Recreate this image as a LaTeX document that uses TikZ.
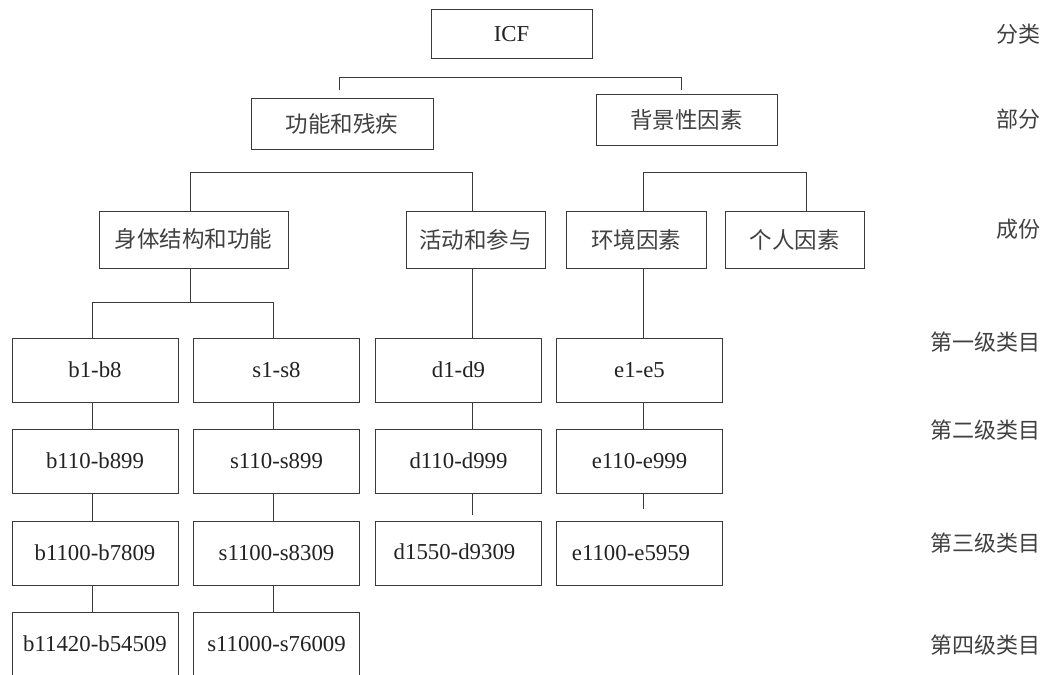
\documentclass[tikz,border=0pt]{standalone}
\usepackage{fontspec}
\setmainfont{Liberation Serif}
\newfontfamily\cjk{Noto Sans CJK SC}
\usetikzlibrary{calc}
\definecolor{ln}{HTML}{3A3A3A}
\definecolor{tx}{HTML}{222222}
\definecolor{ctx}{HTML}{404040}
\tikzset{
  box/.style={draw=ln, line width=1pt, rectangle, inner sep=0pt, text=tx,
    font=\fontsize{22.8}{26}\selectfont},
  cbox/.style={box, text=ctx, font=\cjk\fontsize{22.5}{26}\selectfont},
  lvl/.style={box, minimum width=166pt, minimum height=64pt},
  conn/.style={draw=ln, line width=0.9pt},
  side/.style={anchor=east, inner sep=0pt, text=ctx, font=\cjk\fontsize{22}{26}\selectfont}
}
\begin{document}
\begin{tikzpicture}[x=1pt,y=-1pt]
\path[use as bounding box] (0,0) rectangle (1043,674);
\clip (0,0) rectangle (1043,674);
% top levels
\node[box, minimum width=161pt, minimum height=49pt] (icf) at (511.5,34.5) {ICF};
\node[cbox, minimum width=182pt, minimum height=50pt] (func) at (342,124) {功能和残疾};
\node[cbox, minimum width=181pt, minimum height=50pt] (bg) at (686.5,120) {背景性因素};
\node[cbox, minimum width=189pt, minimum height=57pt] (body) at (193.5,239.5) {身体结构和功能};
\node[cbox, minimum width=139pt, minimum height=57pt] (act) at (475.5,239.5) {活动和参与};
\node[cbox, minimum width=140pt, minimum height=57pt] (env) at (636,239.5) {环境因素};
\node[cbox, minimum width=139pt, minimum height=57pt] (pers) at (794.5,239.5) {个人因素};
% category boxes
\node[lvl] (b1) at (95,370) {b1-b8};
\node[lvl] (b2) at (95,461) {b110-b899};
\node[lvl] (b3) at (95,553) {b1100-b7809};
\node[lvl] (b4) at (95,644) {b11420-b54509};
\node[lvl] (s1) at (276.5,370) {s1-s8};
\node[lvl] (s2) at (276.5,461) {s110-s899};
\node[lvl] (s3) at (276.5,553) {s1100-s8309};
\node[lvl] (s4) at (276.5,644) {s11000-s76009};
\node[lvl] (d1) at (458.5,370) {d1-d9};
\node[lvl] (d2) at (458.5,461) {d110-d999};
\node[lvl] (d3) at (458.5,553) {\raisebox{3pt}{\hspace*{-8pt}d1550-d9309}};
\node[lvl] (e1) at (639.5,370) {e1-e5};
\node[lvl] (e2) at (639.5,461) {e110-e999};
\node[lvl] (e3) at (639.5,553) {\hspace*{-17pt}e1100-e5959};
% side labels
\node[side] (l0) at (1041,34) {分类};
\node[side] (l1) at (1041,119) {部分};
\node[side] (l2) at (1041,229) {成份};
\node[side] (l3) at (1041,342) {第一级类目};
\node[side] (l4) at (1041,430) {第二级类目};
\node[side] (l5) at (1041,543) {第三级类目};
\node[side] (l6) at (1041,645) {第四级类目};
% connectors
\draw[conn] ([xshift=-3pt,yshift=8pt]func.north) -- ++(0,-13) -| ([xshift=-5.5pt,yshift=4pt]bg.north);
\draw[conn] ([xshift=-3.5pt]body.north) -- ++(0,-38) -| ([xshift=-3.5pt]act.north);
\draw[conn] ([xshift=7pt]env.north) -- ++(0,-38) -| ([xshift=11.5pt]pers.north);
\draw[conn] ([xshift=-3.5pt]body.south) -- ([xshift=-3.5pt]body.south |- 0,303);
\draw[conn] ([xshift=-3pt]b1.north) -- ++(0,-35) -| ([xshift=-3.5pt]s1.north);
\draw[conn] ([xshift=-3.5pt]act.south) -- ([xshift=-3.5pt]act.south |- d1.north);
\draw[conn] ([xshift=7pt]env.south) -- ([xshift=7pt]env.south |- e1.north);
\draw[conn] ([xshift=-3pt]b1.south) -- ([xshift=-3pt]b2.north);
\draw[conn] ([xshift=-3pt]b2.south) -- ([xshift=-3pt]b3.north);
\draw[conn] ([xshift=-3pt]b3.south) -- ([xshift=-3pt]b4.north);
\draw[conn] ([xshift=-3.5pt]s1.south) -- ([xshift=-3.5pt]s2.north);
\draw[conn] ([xshift=-3.5pt]s2.south) -- ([xshift=-3.5pt]s3.north);
\draw[conn] ([xshift=-3.5pt]s3.south) -- ([xshift=-3.5pt]s4.north);
\draw[conn] ([xshift=13.5pt]d1.south) -- ([xshift=13.5pt]d2.north);
\draw[conn] ([xshift=13.5pt]d2.south) -- ++(0,21);
\draw[conn] ([xshift=3.5pt]e1.south) -- ([xshift=3.5pt]e2.north);
\draw[conn] ([xshift=3.5pt]e2.south) -- ++(0,15);
\end{tikzpicture}
\end{document}
